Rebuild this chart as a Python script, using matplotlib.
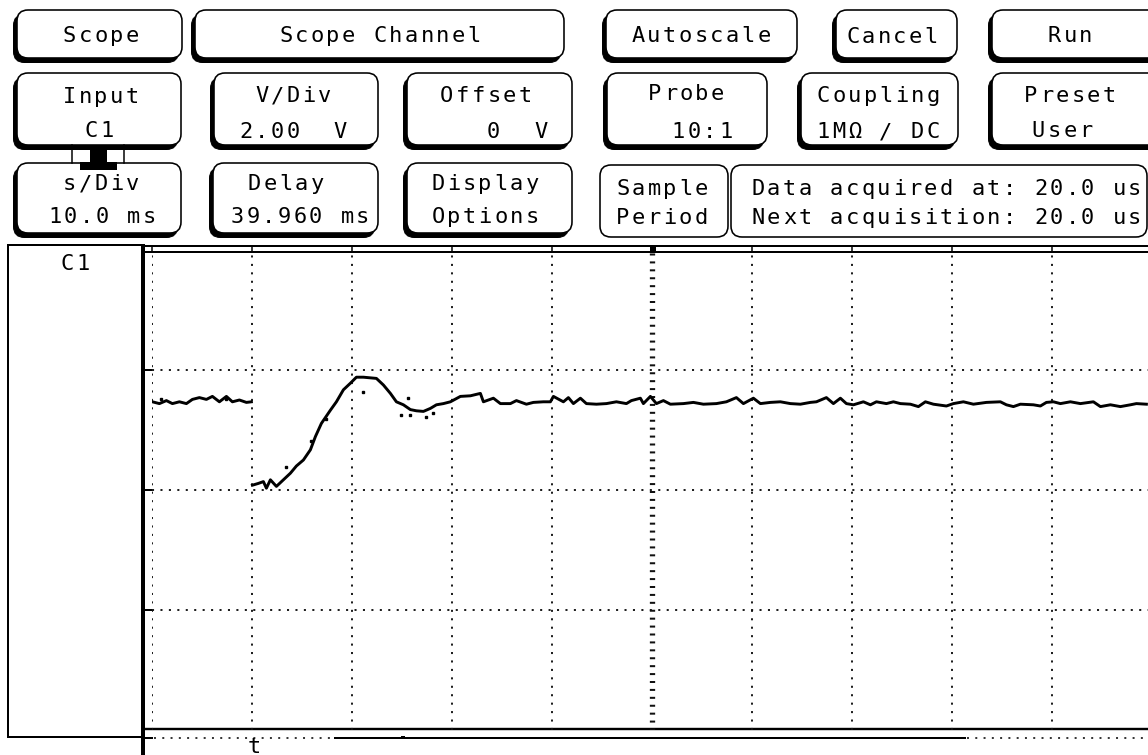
import numpy as np
import matplotlib
matplotlib.use("Agg")
import matplotlib.pyplot as plt
from matplotlib.patches import FancyBboxPatch, Rectangle

W, H = 1148, 755

# scope settings shown on the soft keys
VOLTS_PER_DIV = 2.0
MS_PER_DIV = 10.0
DELAY_MS = 39.960
OFFSET_V = 0.0

# trace left on screen before the trigger (ms, V)
pre_t = [-10.0, -9.3, -8.6, -8.0, -7.3, -6.6, -6.0, -5.3, -4.6, -4.0,
         -3.3, -2.6, -2.0, -1.3, -0.6, -0.1]
pre_v = [1.47, 1.44, 1.49, 1.44, 1.47, 1.44, 1.51, 1.54, 1.51, 1.56,
         1.47, 1.56, 1.47, 1.50, 1.46, 1.47]

# acquired trace after the trigger (ms, V)
post_t = [0.0, 0.6, 1.1, 1.4, 1.8, 2.4, 3.1, 3.8, 4.4, 5.1,
          5.8, 6.3, 6.9, 7.8, 8.4, 9.1, 9.8, 10.4, 11.1, 12.4,
          13.1, 13.8, 14.4, 15.1, 15.8, 16.4, 17.1, 17.8, 18.4, 19.1,
          19.8, 20.8, 21.8, 22.8, 23.1, 24.1, 24.8, 25.8, 26.4, 27.4,
          28.1, 29.1, 29.8, 30.1, 31.1, 31.6, 32.1, 32.8, 33.4, 34.4,
          35.4, 36.4, 37.4, 37.9, 38.8, 39.1, 39.8, 40.4, 41.1, 41.8,
          43.1, 44.1, 45.1, 46.4, 47.4, 48.4, 49.1, 50.1, 50.8, 51.8,
          52.8, 53.8, 54.8, 55.8, 56.4, 57.4, 58.1, 58.8, 59.4,
          60.1, 61.1, 61.8, 62.4, 63.4, 64.1, 64.8, 65.8, 66.6, 67.3,
          68.1, 69.4, 70.1, 71.1, 72.1, 73.4, 74.8, 75.4, 76.1, 76.8,
          78.1, 78.8, 79.4, 80.1, 80.8, 81.8, 82.8, 84.1, 84.8, 85.8,
          86.8, 87.8, 88.4, 89.4]
post_v = [0.08, 0.11, 0.14, 0.03, 0.17, 0.06, 0.17, 0.28, 0.40, 0.50,
          0.67, 0.89, 1.11, 1.33, 1.47, 1.67, 1.78, 1.88, 1.88, 1.86,
          1.75, 1.61, 1.47, 1.42, 1.34, 1.32, 1.31, 1.36, 1.42, 1.44,
          1.47, 1.56, 1.57, 1.61, 1.47, 1.53, 1.44, 1.44, 1.49, 1.43,
          1.46, 1.47, 1.47, 1.56, 1.47, 1.54, 1.44, 1.53, 1.44, 1.43,
          1.44, 1.47, 1.44, 1.49, 1.53, 1.44, 1.56, 1.44, 1.49, 1.43,
          1.44, 1.46, 1.43, 1.44, 1.47, 1.54, 1.44, 1.53, 1.44, 1.46,
          1.47, 1.44, 1.43, 1.46, 1.47, 1.54, 1.44, 1.53, 1.44,
          1.42, 1.47, 1.42, 1.47, 1.44, 1.47, 1.44, 1.43, 1.39, 1.47,
          1.43, 1.40, 1.44, 1.47, 1.43, 1.46, 1.47, 1.42, 1.39, 1.43,
          1.42, 1.40, 1.46, 1.47, 1.44, 1.47, 1.44, 1.47, 1.39, 1.42,
          1.39, 1.42, 1.44, 1.43]

# stray sample points off the main trace
stray_t = [-9.1, -2.6, 3.4, 5.9, 7.4, 11.1, 15.6, 14.9, 15.8, 17.4, 18.1]
stray_v = [1.51, 1.51, 0.38, 0.81, 1.18, 1.64, 1.54, 1.25, 1.25, 1.21, 1.29]

PITCH = 15.7      # character cell width of the scope font, px
FS = 15.8
PT = 0.72         # points per pixel at dpi 100

fig = plt.figure(figsize=(W / 100, H / 100), dpi=100)
fig.patch.set_facecolor("white")

ui = fig.add_axes([0, 0, 1, 1])
ui.set_xlim(0, W)
ui.set_ylim(H, 0)
ui.axis("off")


def caption(x, base, s, left=False):
    n = len(s)
    x0 = x if left else x - (n - 1) / 2 * PITCH
    for i, ch in enumerate(s):
        if ch != " ":
            ui.text(x0 + i * PITCH, base, ch, ha="center", va="baseline",
                    fontsize=FS, family="DejaVu Sans Mono", color="black")


def key(x0, y0, x1, y1, shadow=True):
    style = "round,pad=0,rounding_size=11"
    if shadow:
        ui.add_patch(FancyBboxPatch((x0 - 3.5, y0 + 4.5), x1 - x0, y1 - y0, boxstyle=style,
                                    fc="black", ec="black", lw=1 * PT))
    ui.add_patch(FancyBboxPatch((x0, y0), x1 - x0, y1 - y0, boxstyle=style,
                                fc="white", ec="black", lw=1.6 * PT))


# row 1
key(17, 10, 182, 58);   caption(101, 42, "Scope")
key(195, 10, 564, 58);  caption(380, 42, "Scope Channel")
key(606, 10, 797, 58);  caption(701, 42, "Autoscale")
key(836, 10, 957, 58);  caption(892, 43, "Cancel")
key(992, 10, 1170, 58); caption(1070, 42, "Run")

# row 2
key(17, 73, 181, 145);   caption(101, 103, "Input");    caption(99, 137, "C1")
key(214, 73, 378, 145);  caption(293, 102, "V/Div");    caption(293, 138, "2.00  V")
key(407, 73, 572, 145);  caption(486, 102, "Offset");   caption(517, 138, "%g  V" % OFFSET_V)
key(607, 73, 767, 145);  caption(686, 100, "Probe");    caption(702, 138, "10:1")
key(801, 73, 958, 145);  caption(878, 102, "Coupling"); caption(878, 138, "1M\u03a9 / DC")
key(992, 73, 1170, 145); caption(1070, 102, "Preset");  caption(1062, 137, "User")

# row 3
key(17, 163, 181, 233);  caption(101, 190, "s/Div");   caption(102, 223, "%.1f ms" % MS_PER_DIV)
key(213, 163, 378, 233); caption(286, 190, "Delay");   caption(300, 223, "%.3f ms" % DELAY_MS)
key(407, 163, 572, 233); caption(485, 190, "Display"); caption(485, 223, "Options")
key(600, 165, 728, 237, shadow=False); caption(662, 195, "Sample"); caption(662, 224, "Period")
key(731, 165, 1147, 237, shadow=False)
caption(758, 195, "Data acquired at: 20.0 us", left=True)
caption(758, 224, "Next acquisition: 20.0 us", left=True)

# connector between Input and s/Div keys
ui.plot([72, 72], [145, 163], color="black", lw=1.5 * PT)
ui.plot([124, 124], [145, 163], color="black", lw=1.5 * PT)
ui.add_patch(Rectangle((90, 150), 17, 14, fc="black", ec="none"))
ui.add_patch(Rectangle((80, 162), 37, 8, fc="black", ec="none"))

# screen frame
ui.add_patch(Rectangle((8, 245), 135, 492, fc="white", ec="black", lw=2 * PT))
caption(75, 270, "C1")
ui.plot([143, 143], [244, H], color="black", lw=4 * PT, solid_capstyle="butt")
ui.plot([143, W], [246, 246], color="black", lw=2 * PT)
ui.plot([143, W], [251.5, 251.5], color="black", lw=2 * PT)
for k in range(10):
    ui.plot([152 + 100 * k] * 2, [246, 252], color="black", lw=1.5 * PT)
ui.add_patch(Rectangle((649.5, 246), 6, 6, fc="black", ec="none"))
for yy in (370, 490, 610):
    ui.plot([143, 151], [yy, yy], color="black", lw=2 * PT)
ui.plot([143, W], [729, 729], color="black", lw=2.4 * PT)
ui.plot([143, 152], [738, 738], color="black", lw=2 * PT)
ui.plot([154, 330], [738, 738], color="#222222", lw=1.8 * PT, linestyle=(0, (1.1, 3.5)))
ui.plot([335, 965], [738, 738], color="black", lw=2 * PT)
ui.plot([967, W], [738, 738], color="#222222", lw=1.8 * PT, linestyle=(0, (1.1, 3.5)))
ui.add_patch(Rectangle((401, 736), 4, 3, fc="black", ec="none"))

# graticule and trace
half_t = 5 * MS_PER_DIV
half_v = 2 * VOLTS_PER_DIV
ax = fig.add_axes([152 / W, 1 - 730 / H, 1000 / W, 480 / H])
ax.set_xlim(DELAY_MS - half_t, DELAY_MS + half_t)
ax.set_ylim(OFFSET_V - half_v, OFFSET_V + half_v)
ax.patch.set_visible(False)
for s in ax.spines.values():
    s.set_visible(False)
xt = [DELAY_MS + MS_PER_DIV * k for k in range(-5, 5) if k != 0]
ax.set_xticks(xt)
ax.set_yticks([OFFSET_V - VOLTS_PER_DIV, OFFSET_V, OFFSET_V + VOLTS_PER_DIV])
ax.tick_params(length=0, labelbottom=False, labelleft=False)
ax.grid(True, color="#111111", lw=1.35, linestyle=(0, (1.1, 3.4)))
ax.axvline(DELAY_MS, color="#111111", lw=3.8, linestyle=(0, (0.38, 1.12)))

ax.plot(pre_t, pre_v, color="black", lw=2.1)
ax.plot(post_t, post_v, color="black", lw=2.1)
ax.plot(stray_t, stray_v, linestyle="none", marker="s", ms=2.0, color="black")

# trigger marker
trig_x = 152 + (0 - (DELAY_MS - half_t)) / MS_PER_DIV * 100
caption(trig_x + 2, 753, "t")

fig.savefig("out.png", dpi=100, facecolor="white")
